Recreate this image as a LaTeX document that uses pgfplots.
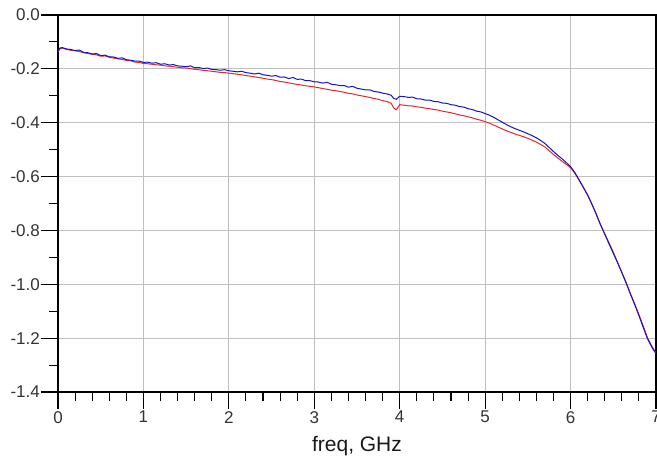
\documentclass[border=0pt]{standalone}
\usepackage{fontspec}
\setmainfont{Liberation Sans}
\usepackage{pgfplots}
\usepackage{pgfplotstable}
\pgfplotsset{compat=1.18}

% freq (GHz), upper trace (blue), lower trace (red)
\pgfplotstableread{
x     b       r
0.00 -0.136 -0.138
0.02 -0.123 -0.126
0.05 -0.121 -0.123
0.10 -0.126 -0.128
0.15 -0.128 -0.131
0.20 -0.132 -0.133
0.25 -0.130 -0.136
0.30 -0.139 -0.140
0.35 -0.140 -0.143
0.40 -0.145 -0.146
0.45 -0.143 -0.148
0.50 -0.151 -0.153
0.55 -0.149 -0.152
0.60 -0.155 -0.157
0.65 -0.156 -0.160
0.70 -0.161 -0.163
0.75 -0.159 -0.165
0.80 -0.166 -0.169
0.85 -0.168 -0.170
0.90 -0.171 -0.175
0.95 -0.171 -0.176
1.00 -0.176 -0.180
1.05 -0.175 -0.181
1.10 -0.179 -0.183
1.15 -0.177 -0.185
1.20 -0.183 -0.186
1.25 -0.181 -0.189
1.30 -0.186 -0.190
1.35 -0.184 -0.192
1.40 -0.189 -0.194
1.45 -0.190 -0.196
1.50 -0.192 -0.197
1.55 -0.189 -0.199
1.60 -0.196 -0.202
1.65 -0.195 -0.203
1.70 -0.199 -0.206
1.75 -0.197 -0.207
1.80 -0.202 -0.209
1.85 -0.203 -0.211
1.90 -0.205 -0.213
1.95 -0.203 -0.214
2.00 -0.207 -0.216
2.05 -0.209 -0.218
2.10 -0.211 -0.220
2.15 -0.209 -0.222
2.20 -0.214 -0.225
2.25 -0.216 -0.227
2.30 -0.219 -0.230
2.35 -0.216 -0.232
2.40 -0.222 -0.235
2.45 -0.224 -0.238
2.50 -0.227 -0.240
2.55 -0.225 -0.243
2.60 -0.231 -0.247
2.65 -0.230 -0.249
2.70 -0.236 -0.252
2.75 -0.232 -0.255
2.80 -0.239 -0.258
2.85 -0.238 -0.260
2.90 -0.244 -0.263
2.95 -0.244 -0.265
3.00 -0.248 -0.267
3.05 -0.249 -0.270
3.10 -0.253 -0.273
3.15 -0.250 -0.276
3.20 -0.257 -0.279
3.25 -0.259 -0.281
3.30 -0.262 -0.284
3.35 -0.262 -0.287
3.40 -0.268 -0.291
3.45 -0.265 -0.293
3.50 -0.272 -0.297
3.55 -0.275 -0.300
3.60 -0.278 -0.303
3.65 -0.278 -0.306
3.70 -0.284 -0.310
3.75 -0.286 -0.313
3.80 -0.290 -0.318
3.85 -0.293 -0.321
3.90 -0.298 -0.328
3.93 -0.310 -0.345
3.96 -0.313 -0.352
4.00 -0.302 -0.333
4.05 -0.303 -0.335
4.10 -0.306 -0.337
4.15 -0.305 -0.338
4.20 -0.311 -0.341
4.25 -0.312 -0.343
4.30 -0.316 -0.346
4.35 -0.316 -0.348
4.40 -0.321 -0.351
4.45 -0.322 -0.353
4.50 -0.327 -0.357
4.55 -0.328 -0.360
4.60 -0.333 -0.363
4.65 -0.335 -0.367
4.70 -0.340 -0.371
4.75 -0.342 -0.374
4.80 -0.348 -0.378
4.85 -0.351 -0.382
4.90 -0.357 -0.387
4.95 -0.360 -0.391
5.00 -0.366 -0.396
5.05 -0.372 -0.402
5.10 -0.380 -0.409
5.15 -0.389 -0.416
5.20 -0.398 -0.423
5.25 -0.407 -0.430
5.30 -0.415 -0.436
5.35 -0.422 -0.442
5.40 -0.428 -0.447
5.45 -0.434 -0.452
5.50 -0.441 -0.458
5.55 -0.448 -0.465
5.60 -0.456 -0.472
5.65 -0.466 -0.481
5.70 -0.477 -0.490
5.75 -0.492 -0.504
5.80 -0.507 -0.518
5.85 -0.521 -0.531
5.90 -0.534 -0.543
5.95 -0.548 -0.555
6.00 -0.563 -0.567
6.05 -0.585 -0.588
6.10 -0.612 -0.614
6.15 -0.640 -0.641
6.20 -0.668 -0.670
6.25 -0.703 -0.702
6.30 -0.740 -0.738
6.35 -0.778 -0.779
6.40 -0.814 -0.812
6.45 -0.850 -0.846
6.50 -0.885 -0.880
6.55 -0.920 -0.918
6.60 -0.957 -0.955
6.65 -0.995 -0.993
6.70 -1.036 -1.034
6.75 -1.075 -1.072
6.80 -1.116 -1.112
6.85 -1.160 -1.154
6.90 -1.202 -1.198
6.95 -1.233 -1.229
7.00 -1.258 -1.256
}\meas

\definecolor{trblue}{RGB}{20,20,200}
\definecolor{trred}{RGB}{225,40,40}

\begin{document}
\begin{tikzpicture}
\useasboundingbox (-58pt,-69pt) rectangle (599pt,392pt);
\begin{axis}[
    scale only axis,
    width=598pt, height=377pt,
    xmin=0, xmax=7, ymin=-1.4, ymax=0,
    xtick={0,...,7},
    ytick={-1.4,-1.2,...,0},
    minor x tick num=4,
    minor y tick num=1,
    tick align=outside,
    tick style={black, line width=1.1pt},
    major tick length=17pt,
    minor tick length=8.5pt,
    axis line style={black, line width=1.5pt},
    xtick pos=bottom, ytick pos=left,
    grid=major,
    major grid style={black!25, line width=1.2pt},
    /pgf/number format/assume math mode=true,
    /pgf/number format/fixed,
    /pgf/number format/fixed zerofill,
    /pgf/number format/precision=1,
    xticklabel={\pgfmathprintnumber[precision=0,fixed zerofill=false]{\tick}},
    ticklabel style={font=\fontsize{17}{17}\selectfont, text=black!80},
    yticklabel style={anchor=east, inner xsep=1pt},
    xticklabel style={anchor=north, inner ysep=2pt},
    xlabel={freq, GHz},
    xlabel style={font=\fontsize{21}{21}\selectfont, text=black!90, yshift=-8pt},
]
\addplot[trred, line width=1pt] table[x=x, y=r] {\meas};
\addplot[trblue, line width=1pt] table[x=x, y=b] {\meas};
\end{axis}
\end{tikzpicture}
\end{document}
